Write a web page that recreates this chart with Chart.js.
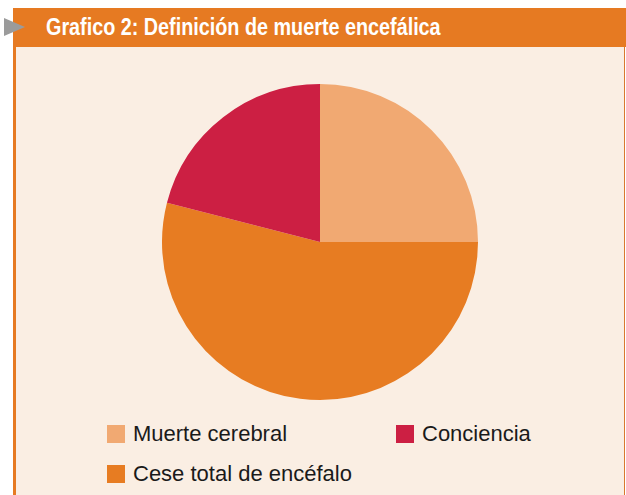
<!DOCTYPE html>
<html>
<head>
<meta charset="utf-8">
<script src="https://cdn.jsdelivr.net/npm/chart.js@4"></script>
<style>
  html, body { margin:0; padding:0; background:#ffffff; }
  body { width:626px; height:495px; position:relative; overflow:hidden; font-family:"Liberation Sans", Arial, sans-serif; }
  #panel { position:absolute; left:13px; top:47px; width:612px; height:448px; background:#FAEEE3;
           border-left:3px solid #E67A22; border-right:1px solid #D9782E; box-sizing:border-box; }
  #header { position:absolute; left:13px; top:8px; width:613px; height:39px; background:#E67A22; }
  #title { position:absolute; left:46px; top:8px; height:39px; line-height:39px; color:#ffffff;
           font-family:"Liberation Sans", Arial, sans-serif; font-weight:bold; font-size:23px; white-space:nowrap;
           transform:scaleX(0.86); transform-origin:left center; }
  #arrow { position:absolute; left:4px; top:18px; width:0; height:0; border-top:9px solid transparent;
           border-bottom:9px solid transparent; border-left:21px solid #9B9B9B; }
  #wrap { position:absolute; left:162px; top:84px; width:316px; height:316px; }
  #legend { position:absolute; left:107px; top:423px; display:grid; grid-template-rows:40px 40px;
            grid-auto-flow:column; grid-template-columns:289px 200px; }
  .item { display:flex; align-items:flex-start; font-size:22px; color:#1a1a1a; line-height:22px; white-space:nowrap; }
  .box { width:18px; height:18px; margin-right:8px; margin-top:2px; flex:none; }
</style>
</head>
<body>
<div id="panel"></div>
<div id="header"></div>
<div id="arrow"></div>
<div id="title">Grafico 2: Definición de muerte encefálica</div>
<div id="wrap"><canvas id="c"></canvas></div>
<div id="legend"></div>
<script>
const categories = ["Muerte cerebral", "Cese total de encéfalo", "Conciencia"];
const values = [25, 54, 21];
const colors = ["#F1A972", "#E77C22", "#CC1F43"];

const chart = new Chart(document.getElementById('c'), {
  type: 'pie',
  data: {
    labels: categories,
    datasets: [{ data: values, backgroundColor: colors, borderWidth: 0 }]
  },
  options: {
    responsive: true,
    maintainAspectRatio: false,
    animation: false,
    layout: { padding: 0 },
    plugins: { legend: { display: false }, tooltip: { enabled: false } }
  }
});

const legendEl = document.getElementById('legend');
const items = Chart.overrides.pie.plugins.legend.labels.generateLabels(chart);
items.forEach(it => {
  const d = document.createElement('div');
  d.className = 'item';
  const b = document.createElement('span');
  b.className = 'box';
  b.style.background = it.fillStyle;
  const t = document.createElement('span');
  t.textContent = it.text;
  d.appendChild(b); d.appendChild(t);
  legendEl.appendChild(d);
});
</script>
</body>
</html>
